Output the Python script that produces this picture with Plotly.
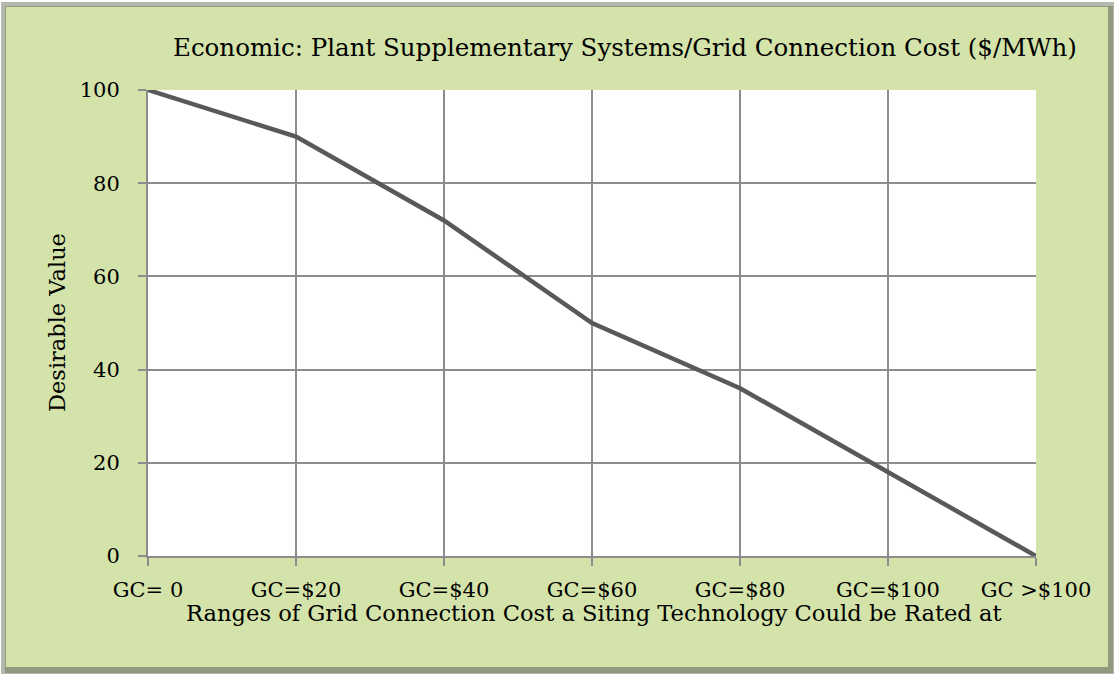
import plotly.graph_objects as go

# Cost ranges and their desirable-value scores
categories = ["GC= 0", "GC=$20", "GC=$40", "GC=$60", "GC=$80", "GC=$100", "GC >$100"]
desirable_values = [100, 90, 72, 50, 36, 18, 0]
y_ticks = [0, 20, 40, 60, 80, 100]

title_text = "Economic: Plant Supplementary Systems/Grid Connection Cost ($/MWh)"
x_title = "Ranges of Grid Connection Cost a Siting Technology Could be Rated at"
y_title = "Desirable Value"

W, H = 1115, 675
L, R, T, B = 148, 79, 90, 119
PW, PH = W - L - R, H - T - B

FONT = "DejaVu Serif"
GREEN = "#d4e3a9"
GRID = "#8c8c8c"


def px(x):
    return (x - L) / PW


def py(y):
    return (H - B - y) / PH


fig = go.Figure()
fig.add_trace(go.Scatter(
    x=list(range(len(categories))),
    y=desirable_values,
    mode="lines",
    line=dict(color="#595959", width=4.5),
    hoverinfo="skip",
    showlegend=False,
))

shapes = [
    # outer frame: light outline, darker bevel on the right and bottom
    dict(type="rect", xref="paper", yref="paper", layer="below",
         x0=px(1), x1=px(1114), y0=py(2), y1=py(674),
         fillcolor="#b4b8ad", line=dict(width=0)),
    dict(type="rect", xref="paper", yref="paper", layer="below",
         x0=px(5), x1=px(1113), y0=py(6), y1=py(673),
         fillcolor="#8f9a7e", line=dict(width=0)),
    dict(type="rect", xref="paper", yref="paper", layer="below",
         x0=px(6), x1=px(1108), y0=py(7), y1=py(667),
         fillcolor=GREEN, line=dict(width=0)),
    # white plotting area
    dict(type="rect", xref="paper", yref="paper", layer="below",
         x0=0, x1=1, y0=0, y1=1,
         fillcolor="#ffffff", line=dict(width=0)),
]

annotations = [
    dict(text=title_text, x=px(625), y=py(47), xref="paper", yref="paper",
         showarrow=False, xanchor="center", yanchor="middle",
         font=dict(family=FONT, size=24.5, color="#000000")),
    dict(text=x_title, x=px(594), y=py(613), xref="paper", yref="paper",
         showarrow=False, xanchor="center", yanchor="middle",
         font=dict(family=FONT, size=22.6, color="#000000")),
    dict(text=y_title, x=px(57), y=py(323), xref="paper", yref="paper",
         showarrow=False, xanchor="center", yanchor="middle", textangle=-90,
         font=dict(family=FONT, size=22.5, color="#000000")),
]

fig.update_layout(
    width=W, height=H,
    margin=dict(l=L, r=R, t=T, b=B),
    paper_bgcolor="#ffffff",
    plot_bgcolor="#ffffff",
    shapes=shapes,
    annotations=annotations,
    font=dict(family=FONT, size=21, color="#000000"),
    xaxis=dict(
        range=[0, len(categories) - 1],
        tickmode="array",
        tickvals=list(range(len(categories))),
        ticktext=categories,
        showgrid=True, gridcolor=GRID, gridwidth=2,
        showline=True, linecolor=GRID, linewidth=2,
        ticks="outside", ticklen=8, tickcolor=GRID, tickwidth=2,
        ticklabelstandoff=6,
        zeroline=False,
        tickfont=dict(family=FONT, size=21, color="#000000"),
    ),
    yaxis=dict(
        range=[0, 100],
        tickmode="array",
        tickvals=y_ticks,
        showgrid=True, gridcolor=GRID, gridwidth=2,
        showline=True, linecolor=GRID, linewidth=2,
        ticks="outside", ticklen=8, tickcolor=GRID, tickwidth=2,
        ticklabelstandoff=14,
        zeroline=False,
        tickfont=dict(family=FONT, size=21, color="#000000"),
    ),
)

fig.write_html("out.html")
